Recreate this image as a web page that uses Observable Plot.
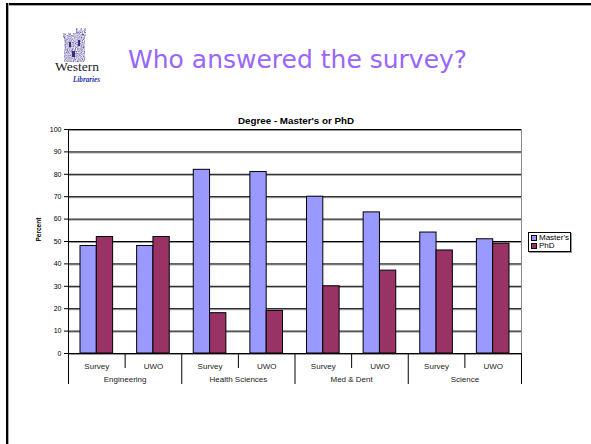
<!DOCTYPE html>
<html><head><meta charset="utf-8">
<script src="https://cdn.jsdelivr.net/npm/d3@7"></script>
<script src="https://cdn.jsdelivr.net/npm/@observablehq/plot@0.6"></script>
<style>
html,body{margin:0;padding:0;background:#fff;}
#page{position:relative;width:591px;height:444px;overflow:hidden;background:#fff;font-family:"Liberation Sans",Arial,sans-serif;}
.frameTop{position:absolute;left:6px;top:3px;width:600px;height:2px;background:#000;box-shadow:0 1px 0 #aaa;}
.frameLeft{position:absolute;left:6px;top:3px;width:2px;height:460px;background:#000;box-shadow:1px 0 0 #aaa;}
#logo{position:absolute;left:0;top:0;}
#title{position:absolute;left:128px;top:47px;font-family:"DejaVu Sans",sans-serif;font-size:25px;line-height:25px;color:#9966ff;white-space:nowrap;}
#ctitle{position:absolute;left:146px;width:300px;top:115px;text-align:center;font-weight:bold;font-size:9.8px;line-height:12px;color:#000;white-space:nowrap;}
#chart{position:absolute;left:0;top:112px;}
#legend{position:absolute;left:528px;top:232px;width:41px;height:17px;border:1px solid #000;box-shadow:1px 1px 0 #999;background:#fff;font-size:8px;line-height:8px;color:#000;padding-top:1px;}
#legend .item{height:8px;white-space:nowrap;display:flex;align-items:center;}
#legend .sw{display:inline-block;width:4px;height:4px;border:1px solid #000;margin:0 2px 0 2px;}
</style>
</head><body>
<div id="page">
  <div class="frameTop"></div>
  <div class="frameLeft"></div>
  <svg id="logo" width="110" height="90" viewBox="0 0 110 90">
    <defs>
      <filter id="grain" x="0" y="0" width="1" height="1">
        <feTurbulence type="fractalNoise" baseFrequency="0.9" numOctaves="2" seed="3" result="n"/>
        <feColorMatrix type="matrix" values="0 0 0 0 1  0 0 0 0 1  0 0 0 0 1  0 0 0 -1.6 1.25" in="n" result="m"/>
        <feComposite in="m" in2="SourceGraphic" operator="in" result="spots"/>
        <feMerge><feMergeNode in="SourceGraphic"/><feMergeNode in="spots"/></feMerge>
      </filter>
    </defs>
    <g filter="url(#grain)" fill="#6a55b0">
      <path d="M64 62 L64 38 L63 38 L63 33 L66 33 L66 35 L68 35 L68 33 L71 33 L71 35 L73 35 L73 33 L76 33 L76 28 L78 28 L78 30 L80 30 L80 28 L82 28 L82 30 L84 30 L84 28 L86 28 L86 36 L85 36 L85 62 Z"/>
    </g>
    <rect x="69" y="42" width="2" height="5" fill="#3c2d80"/>
    <rect x="78" y="40" width="2" height="6" fill="#3c2d80"/>
    <rect x="72" y="51" width="3" height="6" fill="#3c2d80"/>
    <text x="55" y="71" font-family="Liberation Serif, serif" font-size="12.5" fill="#222" textLength="44" lengthAdjust="spacingAndGlyphs">Western</text>
    <text x="73" y="82" font-family="Liberation Serif, serif" font-style="italic" font-weight="bold" font-size="8" fill="#2233aa" textLength="27" lengthAdjust="spacingAndGlyphs">Libraries</text>
  </svg>
  <div id="title">Who answered the survey?</div>
  <div id="ctitle">Degree - Master's or PhD</div>
  <div id="chart"></div>
  <div id="legend"></div>
</div>
<script>
const faculties = ["Engineering", "Health Sciences", "Med & Dent", "Science"];
const sources = ["Survey", "UWO"];
const degrees = ["Master's", "PhD"];
const mastersPct = [48, 48, 82, 81, 70, 63, 54, 51];
const phdPct = [52, 52, 18, 19, 30, 37, 46, 49];
const yTicks = [0, 10, 20, 30, 40, 50, 60, 70, 80, 90, 100];
const yLabel = "Percent";

const colors = {"Master's": "#9999ff", "PhD": "#993366"};
const PAD = 0.212; // empty space on each side of a bar pair, as a fraction of one slot
const font = "'Liberation Sans', Arial, sans-serif";

const rows = mastersPct.map((m, i) => ({
  slot: i,
  faculty: faculties[Math.floor(i / sources.length)],
  source: sources[i % sources.length],
  masters: m,
  phd: phdPct[i]
}));
const groups = faculties.map((f, g) => ({faculty: f, start: g * sources.length, end: (g + 1) * sources.length}));
const innerSeps = rows.filter(d => d.source !== sources[0]).map(d => d.slot);
const outerSeps = groups.map(g => g.start).concat([rows.length]);

const chart = Plot.plot({
  width: 591, height: 290,
  marginTop: 17, marginBottom: 49, marginLeft: 68, marginRight: 70,
  style: {fontFamily: font, background: "transparent", overflow: "visible"},
  x: {type: "linear", domain: [0, rows.length], axis: null},
  y: {domain: [0, 100], axis: null},
  marks: [
    Plot.ruleY(yTicks, {stroke: "#999", strokeWidth: 1, dy: 1}),
    Plot.ruleY(yTicks, {stroke: "#000", strokeWidth: 1}),
    Plot.rectY(rows, {x1: d => d.slot + PAD, x2: d => d.slot + 0.5, y1: 0, y2: "masters", fill: colors["Master's"], stroke: "#000", strokeWidth: 1}),
    Plot.rectY(rows, {x1: d => d.slot + 0.5, x2: d => d.slot + 1 - PAD, y1: 0, y2: "phd", fill: colors["PhD"], stroke: "#000", strokeWidth: 1}),
    Plot.ruleX([rows.length], {stroke: "#888", strokeWidth: 1}),
    Plot.ruleX([0], {stroke: "#000", strokeWidth: 1}),
    Plot.ruleY([0], {stroke: "#000", strokeWidth: 1}),
    Plot.axisY({ticks: yTicks, tickFormat: d => String(d), anchor: "left", tickSize: 4, tickPadding: 3, fontSize: 7, label: null, stroke: "#000", fill: "#000"}),
    Plot.axisX({ticks: innerSeps, tickFormat: () => "", anchor: "bottom", tickSize: 15, label: null, stroke: "#000"}),
    Plot.axisX({ticks: outerSeps, tickFormat: () => "", anchor: "bottom", tickSize: 31, label: null, stroke: "#000"}),
    Plot.text(rows, {x: d => d.slot + 0.5, text: "source", frameAnchor: "bottom", dy: 12.5, lineAnchor: "middle", fontSize: 8, fill: "#222"}),
    Plot.text(groups, {x: d => (d.start + d.end) / 2, text: "faculty", frameAnchor: "bottom", dy: 26, lineAnchor: "middle", fontSize: 8, fill: "#222"}),
    Plot.text([yLabel], {text: d => d, frameAnchor: "left", dx: -30, rotate: -90, fontSize: 6.5, fontWeight: "bold", fill: "#000"})
  ]
});
document.getElementById("chart").appendChild(chart);

const legend = document.getElementById("legend");
degrees.forEach(k => {
  const item = document.createElement("div");
  item.className = "item";
  const sw = document.createElement("span");
  sw.className = "sw";
  sw.style.background = colors[k];
  item.appendChild(sw);
  item.appendChild(document.createTextNode(k));
  legend.appendChild(item);
});
</script>
</body></html>
